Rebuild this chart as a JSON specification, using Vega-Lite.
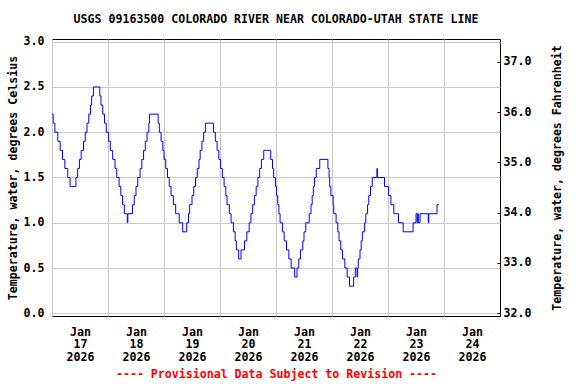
{
  "$schema": "https://vega.github.io/schema/vega-lite/v6.json",
  "width": 448,
  "height": 277,
  "autosize": {"type": "none"},
  "padding": {"left": 52, "top": 39, "right": 76, "bottom": 68},
  "title": {"text": "USGS 09163500 COLORADO RIVER NEAR COLORADO-UTAH STATE LINE", "fontSize": 11.6, "font": "DejaVu Sans Mono", "fontWeight": "bold", "offset": 10, "color": "black", "anchor": "middle"},
  "config": {
    "font": "DejaVu Sans Mono",
    "view": {"stroke": "black", "strokeWidth": 1},
    "axis": {"labelFont": "DejaVu Sans Mono", "labelFontSize": 11.6, "labelFontWeight": "bold", "labelColor": "black", "titleFont": "DejaVu Sans Mono", "titleFontSize": 11.6, "titleFontWeight": "bold", "titleColor": "black", "gridColor": "#c8c8c8", "gridWidth": 1, "domain": false}
  },
  "layer": [
    {
      "data": {"values": [
        {"t":"2026-01-17T00:00","c":2.2},{"t":"2026-01-17T00:30","c":2.1},{"t":"2026-01-17T01:15","c":2.0},{"t":"2026-01-17T02:30","c":1.9},{"t":"2026-01-17T03:30","c":1.8},{"t":"2026-01-17T04:30","c":1.7},{"t":"2026-01-17T05:30","c":1.6},{"t":"2026-01-17T06:45","c":1.5},{"t":"2026-01-17T07:45","c":1.4},{"t":"2026-01-17T10:15","c":1.5},{"t":"2026-01-17T11:00","c":1.6},{"t":"2026-01-17T11:45","c":1.7},{"t":"2026-01-17T12:30","c":1.8},{"t":"2026-01-17T13:30","c":1.9},{"t":"2026-01-17T14:15","c":2.0},{"t":"2026-01-17T15:00","c":2.1},{"t":"2026-01-17T15:45","c":2.2},{"t":"2026-01-17T16:30","c":2.3},{"t":"2026-01-17T17:00","c":2.4},{"t":"2026-01-17T17:45","c":2.5},{"t":"2026-01-17T20:30","c":2.4},{"t":"2026-01-17T21:00","c":2.3},{"t":"2026-01-17T21:45","c":2.2},{"t":"2026-01-17T22:30","c":2.1},{"t":"2026-01-17T23:15","c":2.0},
        {"t":"2026-01-18T00:15","c":1.9},{"t":"2026-01-18T01:00","c":1.8},{"t":"2026-01-18T02:00","c":1.7},{"t":"2026-01-18T03:00","c":1.6},{"t":"2026-01-18T03:45","c":1.5},{"t":"2026-01-18T04:45","c":1.4},{"t":"2026-01-18T05:30","c":1.3},{"t":"2026-01-18T06:15","c":1.2},{"t":"2026-01-18T07:00","c":1.1},{"t":"2026-01-18T08:15","c":1.0},{"t":"2026-01-18T08:30","c":1.1},{"t":"2026-01-18T10:30","c":1.2},{"t":"2026-01-18T11:15","c":1.3},{"t":"2026-01-18T12:00","c":1.4},{"t":"2026-01-18T12:45","c":1.5},{"t":"2026-01-18T13:45","c":1.6},{"t":"2026-01-18T14:30","c":1.7},{"t":"2026-01-18T15:15","c":1.8},{"t":"2026-01-18T16:00","c":1.9},{"t":"2026-01-18T16:45","c":2.0},{"t":"2026-01-18T17:30","c":2.1},{"t":"2026-01-18T17:45","c":2.2},{"t":"2026-01-18T21:30","c":2.1},{"t":"2026-01-18T22:00","c":2.0},{"t":"2026-01-18T22:45","c":1.9},{"t":"2026-01-18T23:30","c":1.8},
        {"t":"2026-01-19T00:00","c":1.7},{"t":"2026-01-19T00:45","c":1.6},{"t":"2026-01-19T01:30","c":1.5},{"t":"2026-01-19T02:15","c":1.4},{"t":"2026-01-19T03:00","c":1.3},{"t":"2026-01-19T04:00","c":1.2},{"t":"2026-01-19T05:00","c":1.1},{"t":"2026-01-19T06:30","c":1.0},{"t":"2026-01-19T08:00","c":0.9},{"t":"2026-01-19T09:45","c":1.0},{"t":"2026-01-19T10:30","c":1.1},{"t":"2026-01-19T11:00","c":1.2},{"t":"2026-01-19T12:00","c":1.3},{"t":"2026-01-19T12:45","c":1.4},{"t":"2026-01-19T13:30","c":1.5},{"t":"2026-01-19T14:15","c":1.6},{"t":"2026-01-19T15:00","c":1.7},{"t":"2026-01-19T15:30","c":1.8},{"t":"2026-01-19T16:15","c":1.9},{"t":"2026-01-19T17:00","c":2.0},{"t":"2026-01-19T17:45","c":2.1},{"t":"2026-01-19T21:15","c":2.0},{"t":"2026-01-19T22:00","c":1.9},{"t":"2026-01-19T22:45","c":1.8},{"t":"2026-01-19T23:30","c":1.7},
        {"t":"2026-01-20T00:15","c":1.6},{"t":"2026-01-20T01:00","c":1.5},{"t":"2026-01-20T01:45","c":1.4},{"t":"2026-01-20T02:30","c":1.3},{"t":"2026-01-20T03:00","c":1.2},{"t":"2026-01-20T04:00","c":1.1},{"t":"2026-01-20T04:45","c":1.0},{"t":"2026-01-20T05:45","c":0.9},{"t":"2026-01-20T06:30","c":0.8},{"t":"2026-01-20T07:00","c":0.7},{"t":"2026-01-20T08:00","c":0.6},{"t":"2026-01-20T09:00","c":0.7},{"t":"2026-01-20T10:30","c":0.8},{"t":"2026-01-20T11:30","c":0.9},{"t":"2026-01-20T12:30","c":1.0},{"t":"2026-01-20T13:15","c":1.1},{"t":"2026-01-20T14:00","c":1.2},{"t":"2026-01-20T14:45","c":1.3},{"t":"2026-01-20T15:30","c":1.4},{"t":"2026-01-20T16:15","c":1.5},{"t":"2026-01-20T17:00","c":1.6},{"t":"2026-01-20T17:45","c":1.7},{"t":"2026-01-20T18:45","c":1.8},{"t":"2026-01-20T21:45","c":1.7},{"t":"2026-01-20T22:30","c":1.6},{"t":"2026-01-20T23:00","c":1.5},{"t":"2026-01-20T23:45","c":1.4},
        {"t":"2026-01-21T00:15","c":1.3},{"t":"2026-01-21T00:45","c":1.2},{"t":"2026-01-21T01:15","c":1.1},{"t":"2026-01-21T01:45","c":1.0},{"t":"2026-01-21T02:45","c":0.9},{"t":"2026-01-21T03:30","c":0.8},{"t":"2026-01-21T04:30","c":0.7},{"t":"2026-01-21T05:30","c":0.6},{"t":"2026-01-21T06:30","c":0.5},{"t":"2026-01-21T08:00","c":0.4},{"t":"2026-01-21T09:00","c":0.5},{"t":"2026-01-21T09:45","c":0.6},{"t":"2026-01-21T10:30","c":0.7},{"t":"2026-01-21T11:30","c":0.8},{"t":"2026-01-21T12:00","c":0.9},{"t":"2026-01-21T12:45","c":1.0},{"t":"2026-01-21T14:15","c":1.1},{"t":"2026-01-21T15:00","c":1.2},{"t":"2026-01-21T15:30","c":1.3},{"t":"2026-01-21T16:00","c":1.4},{"t":"2026-01-21T16:30","c":1.5},{"t":"2026-01-21T17:15","c":1.6},{"t":"2026-01-21T18:45","c":1.7},{"t":"2026-01-21T22:15","c":1.6},{"t":"2026-01-21T22:45","c":1.5},{"t":"2026-01-21T23:00","c":1.4},{"t":"2026-01-21T23:30","c":1.3},
        {"t":"2026-01-22T00:30","c":1.2},{"t":"2026-01-22T00:45","c":1.1},{"t":"2026-01-22T01:45","c":1.0},{"t":"2026-01-22T02:30","c":0.9},{"t":"2026-01-22T03:00","c":0.8},{"t":"2026-01-22T03:45","c":0.7},{"t":"2026-01-22T04:30","c":0.6},{"t":"2026-01-22T05:30","c":0.5},{"t":"2026-01-22T06:30","c":0.4},{"t":"2026-01-22T07:30","c":0.3},{"t":"2026-01-22T09:15","c":0.4},{"t":"2026-01-22T10:00","c":0.5},{"t":"2026-01-22T10:45","c":0.4},{"t":"2026-01-22T11:00","c":0.5},{"t":"2026-01-22T11:15","c":0.6},{"t":"2026-01-22T12:00","c":0.7},{"t":"2026-01-22T12:30","c":0.8},{"t":"2026-01-22T13:00","c":0.9},{"t":"2026-01-22T14:00","c":1.0},{"t":"2026-01-22T14:30","c":1.1},{"t":"2026-01-22T15:15","c":1.2},{"t":"2026-01-22T15:45","c":1.3},{"t":"2026-01-22T16:30","c":1.4},{"t":"2026-01-22T17:15","c":1.5},{"t":"2026-01-22T19:15","c":1.6},{"t":"2026-01-22T19:30","c":1.5},{"t":"2026-01-22T22:30","c":1.4},
        {"t":"2026-01-23T00:15","c":1.3},{"t":"2026-01-23T01:15","c":1.2},{"t":"2026-01-23T02:30","c":1.1},{"t":"2026-01-23T04:30","c":1.0},{"t":"2026-01-23T06:30","c":0.9},{"t":"2026-01-23T10:45","c":1.0},{"t":"2026-01-23T12:00","c":1.1},{"t":"2026-01-23T12:30","c":1.0},{"t":"2026-01-23T12:45","c":1.1},{"t":"2026-01-23T13:00","c":1.0},{"t":"2026-01-23T13:45","c":1.1},{"t":"2026-01-23T17:15","c":1.0},{"t":"2026-01-23T17:30","c":1.1},{"t":"2026-01-23T21:00","c":1.2},{"t":"2026-01-23T21:45","c":1.2}
      ]},
      "mark": {"type": "line", "interpolate": "step-after", "color": "#0000ff", "strokeWidth": 1},
      "encoding": {
        "x": {
          "field": "t", "type": "temporal",
          "scale": {"domain": [{"year": 2026, "month": 1, "date": 17}, {"year": 2026, "month": 1, "date": 25}], "nice": false},
          "axis": {
            "values": [{"year": 2026, "month": 1, "date": 17}, {"year": 2026, "month": 1, "date": 18}, {"year": 2026, "month": 1, "date": 19}, {"year": 2026, "month": 1, "date": 20}, {"year": 2026, "month": 1, "date": 21}, {"year": 2026, "month": 1, "date": 22}, {"year": 2026, "month": 1, "date": 23}, {"year": 2026, "month": 1, "date": 24}],
            "grid": true, "ticks": false, "labelOffset": 28,
            "labelExpr": "[timeFormat(datum.value, '%b'), timeFormat(datum.value, '%d'), timeFormat(datum.value, '%Y')]",
            "labelLineHeight": 12.6, "labelPadding": 10, "labelFlush": false, "labelOverlap": false, "labelBound": false,
            "title": "---- Provisional Data Subject to Revision ----", "titleColor": "#ff0000", "titlePadding": 6
          }
        },
        "y": {
          "field": "c", "type": "quantitative",
          "scale": {"domain": [-0.03, 3.03], "nice": false, "zero": false},
          "axis": {"values": [0, 0.5, 1, 1.5, 2, 2.5, 3], "format": ".1f", "ticks": false, "labelPadding": 8, "grid": true, "title": "Temperature, water, degrees Celsius", "titlePadding": 5}
        }
      }
    },
    {
      "data": {"values": [{"f": 32}, {"f": 37}]},
      "mark": {"type": "point", "opacity": 0},
      "encoding": {
        "y": {
          "field": "f", "type": "quantitative",
          "scale": {"domain": [31.946, 37.454], "nice": false, "zero": false},
          "axis": {"orient": "right", "values": [32, 33, 34, 35, 36, 37], "format": ".1f", "grid": false, "ticks": true, "tickSize": -3, "tickColor": "black", "labelPadding": 6, "title": "Temperature, water, degrees Fahrenheit", "titleAngle": 270, "titlePadding": 32}
        }
      }
    }
  ],
  "resolve": {"scale": {"y": "independent"}, "axis": {"y": "independent"}}
}
